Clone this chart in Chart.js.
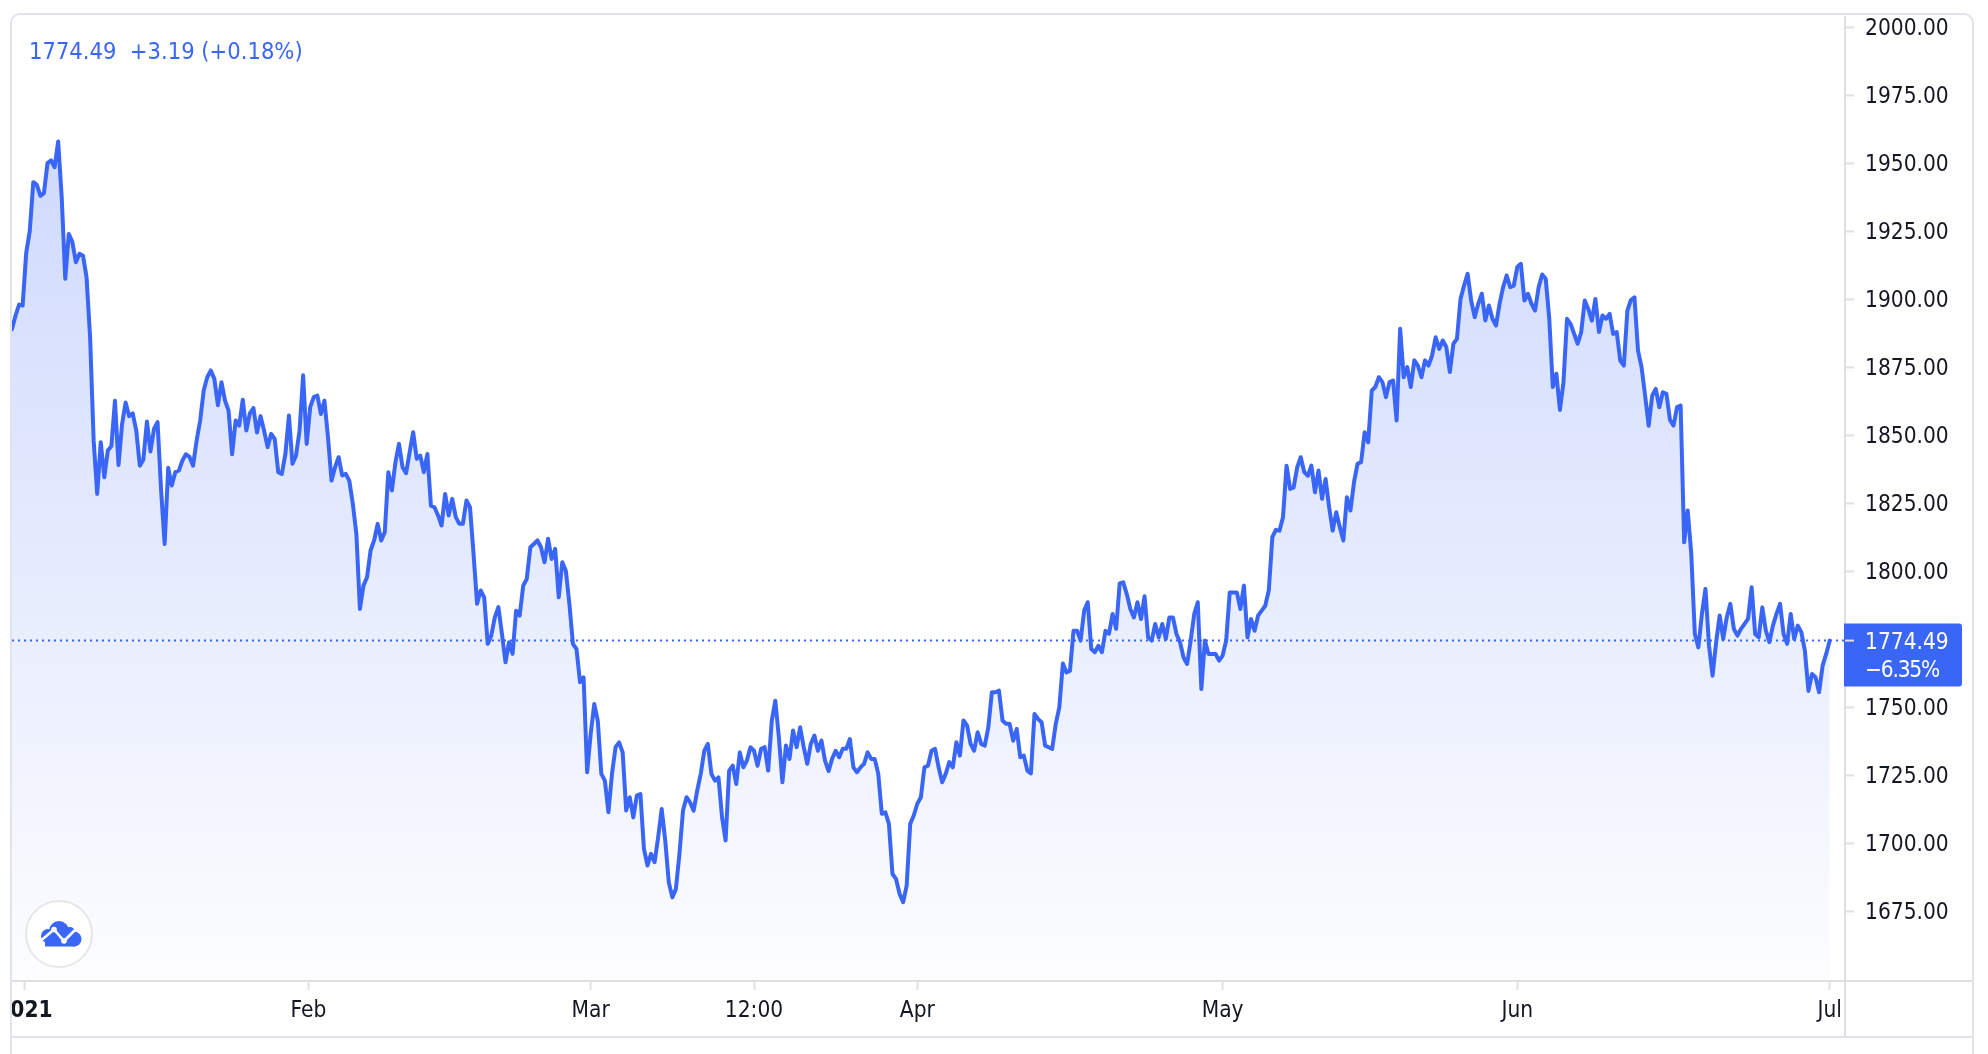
<!DOCTYPE html>
<html>
<head>
<meta charset="utf-8">
<title>1774.49</title>
<script src="https://cdn.jsdelivr.net/npm/chart.js@4/dist/chart.umd.min.js"></script>
<style>
  html, body { margin: 0; height: 100%; background: #fff; overflow: hidden; }
  body { font-family: "DejaVu Sans Condensed", "DejaVu Sans", sans-serif; }
  #frame { position: absolute; left: 10px; top: 13px; width: 1960px; height: 1100px; border: 2px solid #e0e3eb; border-bottom: 0; border-radius: 10px 10px 0 0; }
  #chart { position: absolute; left: 12px; top: 16px; }
  #legend { position: absolute; left: 29px; top: 37px; font-size: 23.5px; line-height: 28px; color: #3a66f8; white-space: pre; }
  .rule { position: absolute; background: #e0e3eb; }
  #logo { position: absolute; left: 25px; top: 900px; width: 68px; height: 68px; }
</style>
</head>
<body>
<div id="frame"></div>
<canvas id="chart" width="1960" height="1020"></canvas>
<div id="legend">1774.49  +3.19 (+0.18%)</div>
<div class="rule" style="left:1845px;top:980px;width:127px;height:2px;background:#e0e0e0"></div>
<div class="rule" style="left:1844px;top:981px;width:2px;height:55px;background:#e0e0e0"></div>
<div class="rule" style="left:10px;top:1036px;width:1964px;height:2px"></div>
<svg id="logo" viewBox="0 0 68 68">
  <circle cx="34" cy="34" r="33" fill="#fff" stroke="#e6e6e6" stroke-width="2"/>
  <g fill="#3a66f8">
    <circle cx="34" cy="31" r="10"/>
    <circle cx="23" cy="36" r="7"/>
    <circle cx="45" cy="32" r="5"/>
    <circle cx="49" cy="39" r="7.5"/>
    <rect x="20" y="36" width="30" height="10.5"/>
  </g>
  <polyline points="13,43 29,29.5 39,41 51,29" fill="none" stroke="#fff" stroke-width="2.6"/>
  <circle cx="29" cy="29.5" r="2.8" fill="#fff"/>
  <circle cx="39" cy="41" r="2.8" fill="#fff"/>
</svg>
<script>
/* ==== data, one price per bar ====================================== */
const janPrices = [1889,1894,1898,1897.7,1917,1925,1943,1942,1938,1939,
  1950,1951,1948.5,1958,1937.5,1907.5,1924,1921,1913.6,1916.7,
  1916,1908,1886,1848,1828.4,1847.4,1834.5,1844.4,1846,1862.7,
  1839,1854,1862,1857,1858,1851.7,1838.8,1841,1855,1844,
  1852.3,1854.8,1829.6,1810,1838,1831.5,1836.4,1837,1840.7,1843,
  1842,1838.8,1848,1855.4,1866.4,1871.3,1873.8,1870.7,1861,1869.5,
  1862.7,1859,1843,1855.4,1853.5,1863,1851.7,1858,1860,1851,
  1857,1851.7,1845.6,1850.5,1848.6,1836.4,1835.8,1843,1857.2,1839.5,
  1842.5,1851.7,1872,1846.8];
const febPrices = [1860.3,1864,1864.6,1857.8,1862.7,1849.3,
  1833.3,1838.2,1841.9,1835.2,1835.8,1833.3,1824.8,1813.7,1786.1,1794.7,
  1797.8,1807.6,1811.3,1817.4,1811.3,1814.3,1836.4,1829.7,1840,1846.8,
  1838.2,1836,1843.7,1851.1,1841.3,1842.5,1836.4,1843.1,1824.1,1823.5,
  1820.5,1816.8,1828.4,1820.5,1826.6,1819.9,1817.4,1817.4,1826,1823.5,
  1806.4,1788,1792.9,1790.4,1773.3,1776.3,1783.1,1786.8,1777,1766.5,
  1773.9,1769.6,1785.5,1783.7,1794.7,1797.2,1808.8,1810,1811.3,1808.8,
  1803.3,1811.9,1804.5,1808.2,1790.4,1803.3,1800.2,1788,1773.3,1771.4,
  1759.2,1761,1726.1,1740.2];
const marPrices = [1751.2,1745,1725.5,1723,1711.4,1725.5,
  1735.3,1737.1,1733.4,1712,1716.9,1709.5,1717.5,1718.1,1697.9,1691.8,
  1696.1,1693,1702.2,1712.6,1701,1685.6,1680.1,1683.2,1696.1,1712,
  1716.9,1715,1712,1719.3,1725.5,1734,1736.5,1725.5,1723,1724.2,
  1709.5,1701,1726.7,1728.5,1721.8,1733.4,1727.9,1730.4,1735.3,1734,
  1728.5,1734.7,1735.3,1726.7,1745,1752.4,1739,1722.4,1735.9,1731,
  1741.4,1735.3,1742.6,1735.3,1729.2,1736.5,1739.6,1734,1737.7,1730.4,
  1726.5,1731,1734,1731.6,1734.7,1734.7,1738.3,1727.9,1726.1,1727.9,
  1729.2,1733.4,1731,1731,1725.5,1710.8,1711.4,1707.1,1688.7,1686.9,
  1681.4,1678.3];
const aprPrices = [1684.4,1707.1,1710.2,1714.5,1716.9,1727.9,1728.5,1734,
  1734.7,1727.9,1722.4,1725.5,1729.8,1727.9,1737.1,1732.2,1745.1,1743.3,
  1736.5,1734,1740.8,1736.5,1735.9,1742.6,1755.5,1755.5,1756.1,1745.1,
  1743.9,1743.9,1737.7,1742,1731.6,1732.2,1726.7,1725.7,1747.5,1745.7,
  1744.5,1735.9,1735.3,1734.7,1743.9,1750,1766.1,1762.8,1763.4,1778.1,
  1778.1,1774.5,1785.5,1788.6,1771.4,1770.2,1772.6,1770.2,1778.1,1777,
  1784.3,1778.8,1795.5,1795.9,1791.6,1786.1,1783,1788.6,1782.4,1790.8,
  1775.7,1774.5,1780.6,1775.7,1780.6,1775.1,1783,1783,1776.9,1773.9,
  1768.3,1765.9,1774.5,1784.3,1788.6,1756.7,1774.5,1769.6];
const mayPrices = [1769.6,1769.6,1767.1,1769,1774.5,1792.2,1792.2,1792.2,1786.1,1794.7,1775.7,1782.4,
  1778.1,1783.7,1785.5,1787.3,1792.9,1812.5,1815.2,1814.9,1819.8,1838.8,
  1830.2,1830.8,1838.2,1841.9,1836.4,1835.1,1838.8,1829,1837,1826.6,
  1833.9,1823.5,1814.9,1821.7,1816.2,1811.3,1827.2,1822.3,1832.7,1839.5,
  1840.1,1851.1,1847.4,1866.4,1867.7,1871.3,1869.5,1864,1869.5,1870.1,
  1855.4,1889.1,1871.3,1875,1867.7,1877.5,1875.6,1871.3,1877.5,1875.6,
  1879.3,1886,1881.7,1884.8,1882.4,1873.2,1883.6,1885.4,1900.1,1905,
  1909.3,1899.5,1893.4,1898.3,1902,1892.2,1897.7,1892.8,1890.3,1898.3,
  1904.4,1908.7,1904.4,1905];
const junPrices = [1911.8,1913,1899.5,1902,1898.3,1895.8,
  1904.4,1909.1,1907.5,1892.8,1867.7,1872.6,1859.3,1869.5,1892.8,1890.9,
  1887.3,1883.6,1887.9,1899.5,1896.4,1892.1,1900.1,1887.9,1894,1892.8,
  1894.6,1887.2,1887.9,1877.4,1875.6,1895.8,1899.7,1900.7,1881.1,1875,
  1864.6,1853.5,1864.6,1867,1860.3,1865.8,1865.2,1855.6,1853.5,1860.3,
  1860.9,1810.6,1822.3,1806.4,1776.9,1772,1784.3,1793.5,1772.6,1761.6,
  1773.9,1783.7,1775.1,1783.1,1788,1778.8,1776.3,1778.8,1780.6,1782.5,
  1794.1,1776.9,1775.7,1786.7,1778.2,1773.9,1780,1784.3,1788,1776.9,
  1773.3,1784.3,1775.1,1780,1777.6,1770.8,1756,1762.2,1761,1755.5,
  1765.3,1769.6,1774.49];

const xTickBars = [3.5, 83.5, 163, 209, 255, 341, 424, 512];
const xTickLabels = ['2021', 'Feb', 'Mar', '12:00', 'Apr', 'May', 'Jun', 'Jul'];
const yTicks = [1675, 1700, 1725, 1750, 1800, 1825, 1850, 1875, 1900, 1925, 1950, 1975, 2000];
const lastPrice = 1774.49;
const lastPriceLabel = '1774.49';
const lastChangeLabel = '\u22126.35%';

/* ==== helpers ====================================================== */
const BLUE = '#3a66f8', INK = '#131722', AXIS = '#e0e0e0';
const FONT = '"DejaVu Sans Condensed", "DejaVu Sans", sans-serif';
const prices = [...janPrices, ...febPrices, ...marPrices, ...aprPrices, ...mayPrices, ...junPrices];

const areaFill = c => {
  const a = c.chart.chartArea;
  if (!a) return 'transparent';
  const g = c.chart.ctx.createLinearGradient(0, a.top, 0, a.bottom);
  g.addColorStop(0, 'rgba(56,100,246,0.28)');
  g.addColorStop(1, 'rgba(56,100,246,0.01)');
  return g;
};

// y labels sit a little below their tick marks in the original
const nudgeLabels = (scale, dy) => {
  if (scale._nudged) return;
  scale._nudged = true;
  const compute = scale._computeLabelItems;
  scale._computeLabelItems = area => {
    const items = compute.call(scale, area);
    items.forEach(it => { it.options.translation[1] += dy; });
    return items;
  };
};

// blue price tag sitting on the y axis
const priceTag = {
  id: 'priceTag',
  afterDraw(chart) {
    const { ctx, scales: { y }, chartArea: a } = chart;
    const py = y.getPixelForValue(lastPrice);
    ctx.save();
    ctx.fillStyle = BLUE;
    ctx.beginPath();
    ctx.roundRect(a.right - 1, py - 17, 118, 63, [0, 3, 3, 0]);
    ctx.fill();
    ctx.fillStyle = AXIS;
    ctx.fillRect(a.right, py - 1, 9, 2);
    ctx.fillStyle = '#fff';
    ctx.font = `22.5px ${FONT}`;
    ctx.textBaseline = 'middle';
    ctx.fillText(lastPriceLabel, a.right + 20, py + 3);
    ctx.letterSpacing = '-1.2px';
    ctx.fillText(lastChangeLabel, a.right + 20, py + 31);
    ctx.restore();
  }
};

/* ==== chart ======================================================== */
Chart.defaults.font.family = FONT;
Chart.defaults.font.size = 22.5;
Chart.defaults.color = INK;

new Chart(document.getElementById('chart'), {
  type: 'line',
  data: {
    datasets: [
      {
        data: [{ x: 0, y: lastPrice }, { x: 517, y: lastPrice }],
        borderColor: BLUE, borderWidth: 2, borderDash: [2, 4],
        pointRadius: 0, fill: false
      },
      {
        data: prices.map((p, i) => ({ x: i, y: p })),
        borderColor: BLUE, borderWidth: 4, borderJoinStyle: 'round', borderCapStyle: 'round',
        backgroundColor: areaFill, fill: 'start',
        pointRadius: 0, tension: 0
      }
    ]
  },
  options: {
    responsive: false,
    animation: false,
    events: [],
    layout: { padding: 0 },
    plugins: { legend: { display: false }, tooltip: { enabled: false } },
    scales: {
      x: {
        type: 'linear', min: 0, max: 516.3,
        border: { color: AXIS, width: 2 },
        grid: { drawOnChartArea: false, color: AXIS, tickLength: 9, tickWidth: 2 },
        afterBuildTicks: s => { s.ticks = xTickBars.map(v => ({ value: v })); },
        afterFit: s => { s.height = 55; s.paddingLeft = 0; s.paddingRight = 0; },
        ticks: {
          autoSkip: false, maxRotation: 0, padding: 8,
          callback: (v, i) => xTickLabels[i],
          font: c => ({ weight: c.index === 0 ? 'bold' : 'normal', size: 22.5 })
        }
      },
      y: {
        position: 'right', min: 1649.35, max: 2004.1,
        border: { color: AXIS, width: 2 },
        grid: { drawOnChartArea: false, color: AXIS, tickLength: 9, tickWidth: 2 },
        afterBuildTicks: s => { nudgeLabels(s, 2); s.ticks = yTicks.map(v => ({ value: v })); },
        afterFit: s => { s.width = 127; s.paddingTop = 0; s.paddingBottom = 0; },
        ticks: { padding: 11, callback: v => v.toFixed(2) }
      }
    }
  },
  plugins: [priceTag]
});
</script>
</body>
</html>
